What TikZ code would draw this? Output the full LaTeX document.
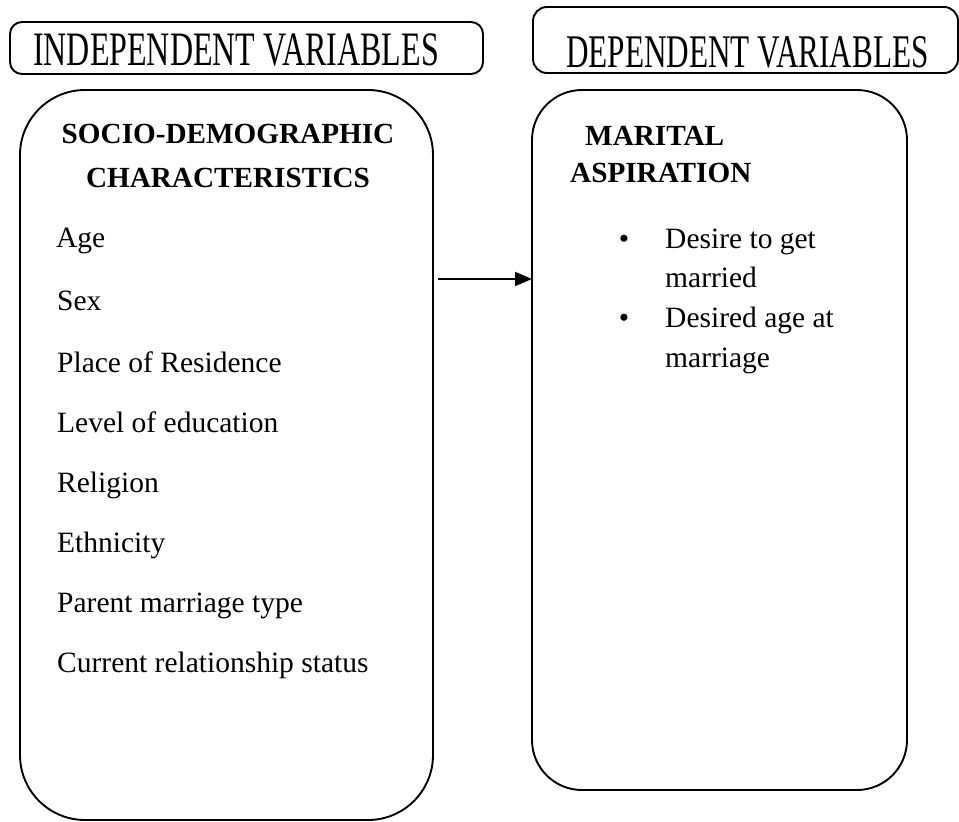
\documentclass[tikz,border=0pt]{standalone}
\usepackage{fontspec}
\setmainfont{Liberation Serif}
\usetikzlibrary{arrows.meta}
\tikzset{
  box/.style={draw=black, line width=1.9pt, inner sep=0pt, outer sep=0pt, anchor=north west},
  bodytxt/.style={anchor=base west, inner sep=0pt, font=\fontsize{29.5}{35}\selectfont},
  headtxt/.style={anchor=base, inner sep=0pt, font=\fontsize{29.2}{35}\selectfont\bfseries},
  toptxt/.style={anchor=base west, inner sep=0pt},
  conn/.style={line width=1.9pt, -{Triangle[length=17pt,width=14pt]}}
}
\begin{document}
\begin{tikzpicture}[x=1pt,y=-1pt]
\useasboundingbox (0,0) rectangle (959,822);
% top label boxes
\node[box, rounded corners=12pt, minimum width=473pt, minimum height=52pt] (tl) at (10,22) {};
\node[box, rounded corners=14pt, minimum width=425pt, minimum height=66pt] (tr) at (533,7) {};
\node[toptxt, font=\fontsize{32}{36}\selectfont] (tlt) at (33,65) {\scalebox{1}[1.5]{INDEPENDENT VARIABLES}};
\node[toptxt, font=\fontsize{31.2}{36}\selectfont] (trt) at (566,67) {\scalebox{1}[1.5]{DEPENDENT VARIABLES}};
% main boxes
\node[box, rounded corners=65pt, minimum width=413pt, minimum height=730pt] (L) at (20,90) {};
\node[box, rounded corners=50pt, minimum width=375pt, minimum height=700pt] (R) at (532,90) {};
% left contents
\node[headtxt] (h1) at (228,143) {SOCIO-DEMOGRAPHIC};
\node[headtxt] (h2) at (228,187) {CHARACTERISTICS};
\node[bodytxt] (i1) at (56,247) {Age};
\node[bodytxt] (i2) at (57,310) {Sex};
\node[bodytxt] (i3) at (57,372) {Place of Residence};
\node[bodytxt] (i4) at (57,432) {Level of education};
\node[bodytxt] (i5) at (57,492) {Religion};
\node[bodytxt] (i6) at (57,552) {Ethnicity};
\node[bodytxt] (i7) at (57,612) {Parent marriage type};
\node[bodytxt] (i8) at (57,672) {Current relationship status};
% right contents
\node[headtxt, anchor=base west] (m1) at (585,145) {MARITAL};
\node[headtxt, anchor=base west] (m2) at (570,182) {ASPIRATION};
\node[bodytxt, anchor=base] (b1) at (624,248) {\textbullet};
\node[bodytxt] (d1) at (665,248) {Desire to get};
\node[bodytxt] (d2) at (665,287) {married};
\node[bodytxt, anchor=base] (b2) at (624,327) {\textbullet};
\node[bodytxt] (d3) at (665,327) {Desired age at};
\node[bodytxt] (d4) at (665,367) {marriage};
% connector
\coordinate (ay) at (0,279);
\draw[conn] ([xshift=5pt]L.east |- ay) -- (R.west |- ay);
\end{tikzpicture}
\end{document}
